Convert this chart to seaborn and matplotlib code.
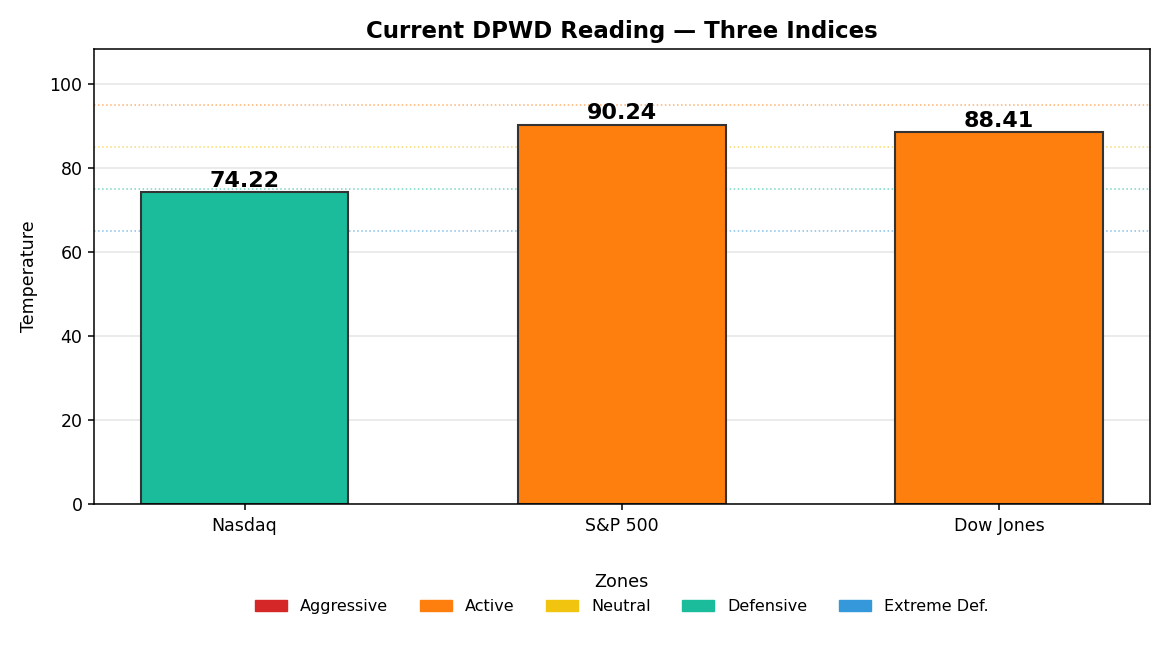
import matplotlib
matplotlib.use("Agg")
import matplotlib.pyplot as plt
import seaborn as sns
import pandas as pd
from matplotlib.patches import Patch

# data
indices = ["Nasdaq", "S&P 500", "Dow Jones"]
readings = [74.22, 90.24, 88.41]
bar_zone = ["Defensive", "Active", "Active"]

zone_names = ["Aggressive", "Active", "Neutral", "Defensive", "Extreme Def."]
zone_colors = ["#d62728", "#ff7f0e", "#f1c40f", "#1abc9c", "#3498db"]
zone_lines = [95, 85, 75, 65]  # Active, Neutral, Defensive, Extreme Def. thresholds

plt.rcParams["font.family"] = ["DejaVu Sans"]

df = pd.DataFrame({"index": indices, "value": readings, "zone": bar_zone})
palette = dict(zip(zone_names, zone_colors))

fig, ax = plt.subplots(figsize=(11.7, 6.5), dpi=100)
sns.barplot(data=df, x="index", y="value", hue="zone", palette=palette,
            width=0.55, edgecolor="#333333", linewidth=1.5, dodge=False,
            legend=False, ax=ax, saturation=1)

for y, c in zip(zone_lines, zone_colors[1:]):
    ax.axhline(y, color=c, linestyle=":", linewidth=1.1, alpha=0.6, zorder=0)

for i, v in enumerate(readings):
    ax.text(i, v + 0.3, f"{v:.2f}", ha="center", va="bottom",
            fontsize=16, fontweight="bold")

ax.set_xlim(-0.4, 2.4)
ax.set_ylim(0, max(readings) * 1.2)
ax.yaxis.grid(True, color="#e5e5e5", linewidth=1.1)
ax.set_axisbelow(True)
ax.set_xlabel("")
ax.set_ylabel("Temperature", fontsize=12.6, labelpad=8)
ax.set_title("Current DPWD Reading \u2014 Three Indices", fontsize=16.5,
             fontweight="bold", pad=8)
ax.tick_params(axis="both", labelsize=12.5, length=4.5, width=1.1)
ax.tick_params(axis="x", pad=5)
for s in ax.spines.values():
    s.set_linewidth(1.1)
    s.set_color("black")

handles = [Patch(color=c, label=n) for n, c in zip(zone_names, zone_colors)]
ax.legend(handles=handles, title="Zones", loc="upper center",
          bbox_to_anchor=(0.5, -0.12), ncol=5, frameon=False,
          fontsize=11.5, title_fontsize=12.7, columnspacing=2.0, handlelength=2.0)

fig.subplots_adjust(left=0.08, right=0.983, top=0.925, bottom=0.225)
fig.savefig("out.png", dpi=100)
